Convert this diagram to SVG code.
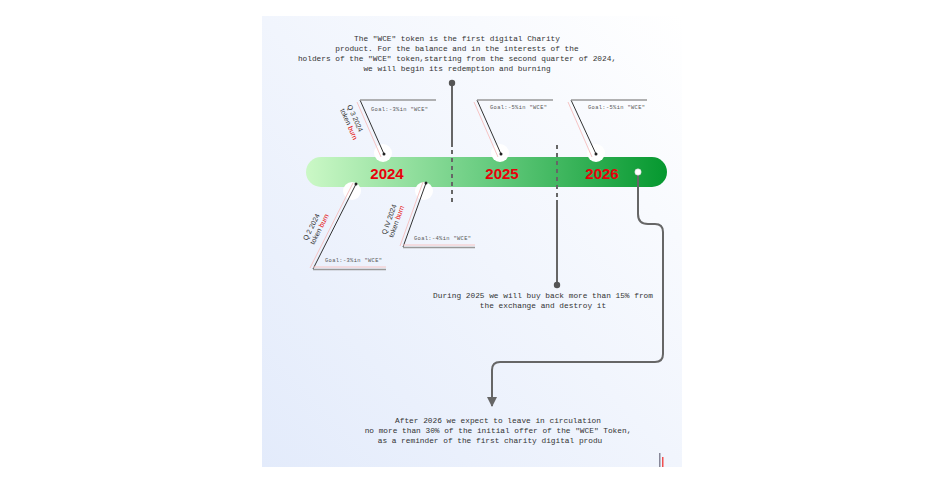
<svg xmlns="http://www.w3.org/2000/svg" width="941" height="485" viewBox="0 0 941 485">
<defs>
<linearGradient id="bg" x1="1" y1="0" x2="0" y2="1">
<stop offset="0" stop-color="#ffffff"/>
<stop offset="1" stop-color="#e3ebfb"/>
</linearGradient>
<linearGradient id="bar" x1="0" y1="0" x2="1" y2="0">
<stop offset="0" stop-color="#cbf8c6"/>
<stop offset="0.5" stop-color="#68cc80"/>
<stop offset="1" stop-color="#05982f"/>
</linearGradient>
<marker id="arr" viewBox="0 0 10 10" refX="9" refY="5" markerWidth="10" markerHeight="10" orient="auto" markerUnits="userSpaceOnUse">
<path d="M0,0 L10,5 L0,10 Z" fill="#666"/>
</marker>
<style>
.mono{font-family:"Liberation Mono","DejaVu Sans Mono",monospace;font-size:7.8px;fill:#333;text-anchor:middle}
.goal{font-family:"Liberation Mono","DejaVu Sans Mono",monospace;font-size:5.4px;fill:#555;letter-spacing:0.35px}
.q{font-family:"Liberation Sans",Arial,sans-serif;font-size:7px;fill:#333}
.burn{fill:#e60000}
.year{font-family:"Liberation Sans",Arial,sans-serif;font-size:15px;font-weight:bold;fill:#e8000b;text-anchor:middle}
.lead{stroke:#333;stroke-width:1;fill:none}
.pink{stroke:#f6c4c4;stroke-width:1;fill:none}
.hl{stroke:#999;stroke-width:1.5;fill:none}
.conn{stroke:#666;stroke-width:2;fill:none}
.dash{stroke:#666;stroke-width:2;stroke-dasharray:4 4;fill:none}
.notch{fill:#fff}
</style>
</defs>
<rect x="262" y="16" width="420" height="451" fill="url(#bg)"/>
<g id="timeline">
<rect x="306" y="157" width="361" height="30" rx="15" fill="url(#bar)"/>
<circle class="notch" cx="383" cy="153" r="9"/>
<circle class="notch" cx="500" cy="153" r="9"/>
<circle class="notch" cx="596" cy="153" r="9"/>
<circle class="notch" cx="352" cy="191" r="9"/>
<circle class="notch" cx="424" cy="191" r="9"/>
<text class="year" x="387" y="179">2024</text>
<text class="year" x="502" y="179">2025</text>
<text class="year" x="602" y="179">2026</text>
</g>
<g id="marker-q3">
<line class="pink" x1="357" y1="102" x2="381" y2="157"/>
<line class="lead" x1="360" y1="100" x2="384" y2="154"/>
<line class="hl" x1="360" y1="100" x2="436" y2="100"/>
<circle cx="384" cy="154" r="1.5" fill="#222"/>
<text class="goal" x="371" y="111">Goal:-3%in "WCE"</text>
<text class="q" transform="translate(347,106) rotate(66)">Q 3   2024</text>
<text class="q" transform="translate(340,110) rotate(66)">token <tspan class="burn">burn</tspan></text>
</g>
<g id="marker-2025">
<line class="pink" x1="474" y1="102" x2="498" y2="157"/>
<line class="lead" x1="477" y1="100" x2="501" y2="154"/>
<line class="hl" x1="477" y1="100" x2="553" y2="100"/>
<circle cx="501" cy="154" r="1.5" fill="#222"/>
<text class="goal" x="490" y="109">Goal:-5%in "WCE"</text>
</g>
<g id="marker-2026">
<line class="pink" x1="568" y1="102" x2="592" y2="157"/>
<line class="lead" x1="571" y1="100" x2="596" y2="154"/>
<line class="hl" x1="571" y1="100" x2="647" y2="100"/>
<circle cx="596" cy="154" r="1.5" fill="#222"/>
<text class="goal" x="588" y="109">Goal:-5%in "WCE"</text>
</g>
<g id="marker-q2">
<line class="pink" x1="310" y1="268" x2="353" y2="183"/>
<line class="lead" x1="313" y1="269" x2="356" y2="184"/>
<line class="pink" x1="313" y1="267" x2="386" y2="267"/>
<line class="hl" x1="313" y1="269.5" x2="386" y2="269.5"/>
<circle cx="356" cy="184" r="1.5" fill="#222"/>
<text class="goal" x="325" y="262">Goal:-3%in "WCE"</text>
<text class="q" transform="translate(307,241) rotate(-63)">Q 2   2024</text>
<text class="q" transform="translate(314,245) rotate(-63)">token <tspan class="burn">burn</tspan></text>
</g>
<g id="marker-qiv">
<line class="pink" x1="400" y1="246" x2="423" y2="182"/>
<line class="lead" x1="403" y1="247" x2="426" y2="183"/>
<line class="pink" x1="403" y1="245" x2="475" y2="245"/>
<line class="hl" x1="403" y1="247.5" x2="475" y2="247.5"/>
<circle cx="426" cy="183" r="1.5" fill="#222"/>
<text class="goal" x="414" y="240">Goal:-4%in "WCE"</text>
<text class="q" transform="translate(386,235) rotate(-70)">Q IV  2024</text>
<text class="q" transform="translate(393,238) rotate(-70)">token <tspan class="burn">burn</tspan></text>
</g>
<g id="connectors">
<line class="conn" x1="452" y1="84" x2="452" y2="147"/>
<line class="dash" x1="452" y1="150" x2="452" y2="204"/>
<circle cx="452" cy="83" r="3.2" fill="#555"/>
<line class="dash" x1="557" y1="145" x2="557" y2="200"/>
<line class="conn" x1="557" y1="200" x2="557" y2="284"/>
<circle cx="557" cy="285" r="3.2" fill="#555"/>
<path class="conn" d="M638,172 L638,214 Q638,224 648,224 L655,224 Q663,224 663,232 L663,354 Q663,362 655,362 L500,362 Q492,362 492,370 L492,406" marker-end="url(#arr)"/>
<circle cx="638" cy="172" r="3.2" fill="#fff" stroke="#ccc" stroke-width="0.5"/>
</g>
<g id="text-top">
<text class="mono" x="457" y="41">The "WCE" token is the first digital Charity</text>
<text class="mono" x="457" y="51">product. For the balance and in the interests of the</text>
<text class="mono" x="457" y="61">holders of the "WCE" token,starting from the second quarter of 2024,</text>
<text class="mono" x="457" y="71">we will begin its redemption and burning</text>
</g>
<g id="text-2025">
<text class="mono" x="543" y="298">During 2025 we will buy back more than 15% from</text>
<text class="mono" x="543" y="308">the exchange and destroy it</text>
</g>
<g id="text-after">
<text class="mono" x="498" y="423">After 2026 we expect to leave in circulation</text>
<text class="mono" x="498" y="433">no more than 30% of the initial offer of the "WCE" Token,</text>
<text class="mono" x="490" y="443">as a  reminder of the first charity digital produ</text>
</g>
<rect x="659" y="453" width="1.5" height="14" fill="#889"/>
<rect x="662" y="457" width="1.5" height="10" fill="#f05050"/>
</svg>
